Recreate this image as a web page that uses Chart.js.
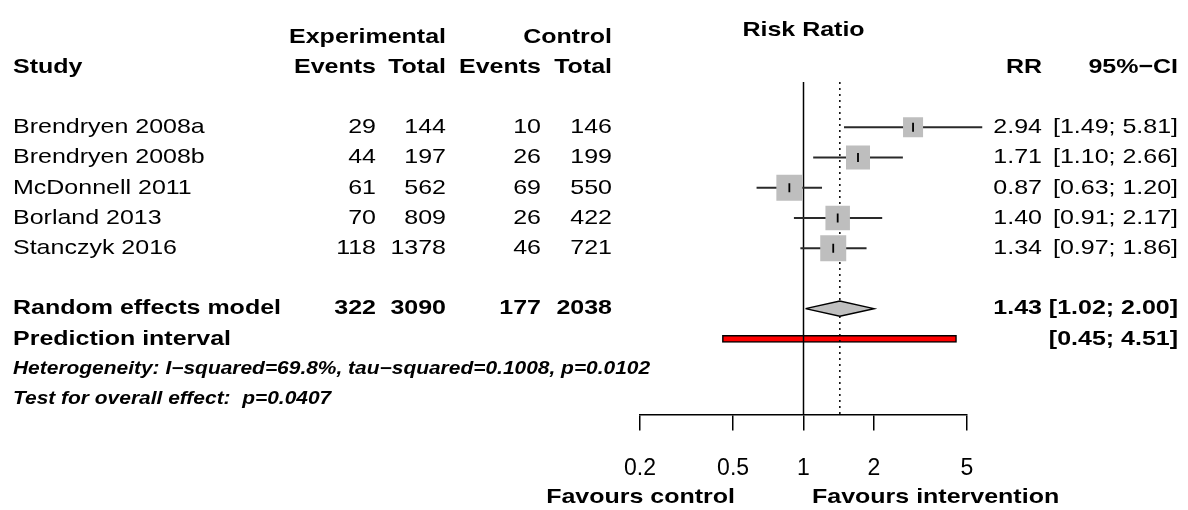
<!DOCTYPE html>
<html>
<head>
<meta charset="utf-8">
<script src="https://cdn.jsdelivr.net/npm/chart.js@4.4.1/dist/chart.umd.min.js"></script>
<style>
  html, body { margin: 0; padding: 0; background: #fff; }
  #wrap { width: 1188px; height: 510px; }
</style>
</head>
<body>
<div id="wrap"><canvas id="forest"></canvas></div>
<script>
// study level data
const studies = ['Brendryen 2008a', 'Brendryen 2008b', 'McDonnell 2011', 'Borland 2013', 'Stanczyk 2016'];
const expEvents = [29, 44, 61, 70, 118];
const expTotal = [144, 197, 562, 809, 1378];
const ctrlEvents = [10, 26, 69, 26, 46];
const ctrlTotal = [146, 199, 550, 422, 721];
const rr = [2.94, 1.71, 0.87, 1.40, 1.34];
const ciLow = [1.49, 1.10, 0.63, 0.91, 0.97];
const ciHigh = [5.81, 2.66, 1.20, 2.17, 1.86];
const weights = [13.7, 19.7, 23.1, 20.5, 23.1]; // estimated from square sizes

// pooled estimate + prediction interval
const pooled = [1.43, 1.02, 2.00];   // RR, lower, upper
const predInterval = [0.45, 4.51];
const xTicks = [0.2, 0.5, 1, 2, 5];

const hetText = 'Heterogeneity: I\u2212squared=69.8%, tau\u2212squared=0.1008, p=0.0102';
const testText = 'Test for overall effect:  p=0.0407';

// row positions (y units, top to bottom)
const rows = [1, 2, 3, 4, 5];
const ROW_POOLED = 7, ROW_PRED = 8, ROW_HET = 9, ROW_TEST = 10;

const FONT = '"Liberation Sans", Arial, Helvetica, sans-serif';
const FS = 21;
const SX = 1.19; // the reference text is drawn a bit wide
const maxW = Math.max(...weights);
const sqRadius = weights.map(w => 26 * Math.sqrt(w / maxW) / (2 * Math.SQRT1_2));

function txt(ctx, s, x, y, align, font) {
    ctx.save();
    ctx.font = font;
    ctx.translate(x, y);
    ctx.scale(SX, 1);
    ctx.textAlign = align;
    ctx.textBaseline = 'middle';
    ctx.fillStyle = '#000';
    ctx.fillText(s, 0, 0);
    ctx.restore();
}

const sum = a => a.reduce((p, c) => p + c, 0);

const tablePlugin = {
    id: 'forestTable',
    afterDraw(chart) {
        const ctx = chart.ctx;
        const y = chart.scales.y;
        const x = chart.scales.x;
        const reg = FS + 'px ' + FONT;
        const bold = 'bold ' + FS + 'px ' + FONT;
        const it = 'italic bold 17.6px ' + FONT;

        // headings
        txt(ctx, 'Risk Ratio', x.getPixelForValue(1), y.getPixelForValue(-2.2), 'center', bold);
        txt(ctx, 'Experimental', 446, y.getPixelForValue(-1.97), 'right', bold);
        txt(ctx, 'Control', 612, y.getPixelForValue(-1.97), 'right', bold);
        const hy = y.getPixelForValue(-1);
        txt(ctx, 'Study', 13, hy, 'left', bold);
        txt(ctx, 'Events', 376, hy, 'right', bold);
        txt(ctx, 'Total', 446, hy, 'right', bold);
        txt(ctx, 'Events', 541, hy, 'right', bold);
        txt(ctx, 'Total', 612, hy, 'right', bold);
        txt(ctx, 'RR', 1042, hy, 'right', bold);
        txt(ctx, '95%\u2212CI', 1178, hy, 'right', bold);

        studies.forEach((s, i) => {
            const py = y.getPixelForValue(rows[i]);
            txt(ctx, s, 13, py, 'left', reg);
            txt(ctx, String(expEvents[i]), 376, py, 'right', reg);
            txt(ctx, String(expTotal[i]), 446, py, 'right', reg);
            txt(ctx, String(ctrlEvents[i]), 541, py, 'right', reg);
            txt(ctx, String(ctrlTotal[i]), 612, py, 'right', reg);
            txt(ctx, rr[i].toFixed(2), 1042, py, 'right', reg);
            txt(ctx, '[' + ciLow[i].toFixed(2) + '; ' + ciHigh[i].toFixed(2) + ']', 1178, py, 'right', reg);
        });

        const ry = y.getPixelForValue(ROW_POOLED);
        txt(ctx, 'Random effects model', 13, ry, 'left', bold);
        txt(ctx, String(sum(expEvents)), 376, ry, 'right', bold);
        txt(ctx, String(sum(expTotal)), 446, ry, 'right', bold);
        txt(ctx, String(sum(ctrlEvents)), 541, ry, 'right', bold);
        txt(ctx, String(sum(ctrlTotal)), 612, ry, 'right', bold);
        txt(ctx, pooled[0].toFixed(2), 1042, ry, 'right', bold);
        txt(ctx, '[' + pooled[1].toFixed(2) + '; ' + pooled[2].toFixed(2) + ']', 1178, ry, 'right', bold);

        const py = y.getPixelForValue(ROW_PRED);
        txt(ctx, 'Prediction interval', 13, py, 'left', bold);
        txt(ctx, '[' + predInterval[0].toFixed(2) + '; ' + predInterval[1].toFixed(2) + ']', 1178, py, 'right', bold);

        txt(ctx, hetText, 13, y.getPixelForValue(ROW_HET), 'left', it);
        txt(ctx, testText, 13, y.getPixelForValue(ROW_TEST), 'left', it);

        // favours labels under the axis
        txt(ctx, 'Favours control', 735, 497, 'right', bold);
        txt(ctx, 'Favours intervention', 812, 497, 'left', bold);
    }
};

const datasets = [];

// squares, drawn above the CI lines
datasets.push({
    type: 'scatter',
    data: rr.map((v, i) => ({ x: v, y: rows[i] })),
    pointStyle: 'rect',
    pointRadius: sqRadius,
    backgroundColor: '#bebebe',
    borderWidth: 0,
    order: 1
});
// estimate tick mark inside each square
datasets.push({
    type: 'scatter',
    data: rr.map((v, i) => ({ x: v, y: rows[i] })),
    pointStyle: 'line',
    rotation: 90,
    pointRadius: 4.5,
    borderColor: '#000',
    borderWidth: 1.8,
    order: 0
});
// confidence intervals
studies.forEach((s, i) => {
    datasets.push({
        type: 'line',
        data: [{ x: ciLow[i], y: rows[i] }, { x: ciHigh[i], y: rows[i] }],
        borderColor: '#2a2a2a',
        borderWidth: 2,
        pointRadius: 0,
        clip: false,
        order: 2
    });
});
// pooled diamond
datasets.push({
    type: 'line',
    data: [
        { x: pooled[1], y: ROW_POOLED },
        { x: pooled[0], y: ROW_POOLED - 0.25 },
        { x: pooled[2], y: ROW_POOLED },
        { x: pooled[0], y: ROW_POOLED + 0.25 },
        { x: pooled[1], y: ROW_POOLED }
    ],
    fill: 'shape',
    backgroundColor: '#c0c0c0',
    borderColor: '#000',
    borderWidth: 1.5,
    pointRadius: 0,
    tension: 0,
    order: 1
});
// prediction interval bar
datasets.push({
    type: 'bar',
    indexAxis: 'y',
    data: [{ x: predInterval, y: ROW_PRED }],
    barThickness: 7,
    backgroundColor: '#ff0000',
    borderColor: '#000',
    borderWidth: 1.5,
    borderSkipped: false,
    order: 4
});
// line of no effect and pooled estimate (dotted)
datasets.push({
    type: 'line',
    data: [{ x: 1, y: -0.5 }, { x: 1, y: 10.5 }],
    borderColor: '#000',
    borderWidth: 1.5,
    pointRadius: 0,
    order: 3
});
datasets.push({
    type: 'line',
    data: [{ x: pooled[0], y: -0.5 }, { x: pooled[0], y: 10.5 }],
    borderColor: '#000',
    borderWidth: 1.5,
    borderDash: [2, 4],
    pointRadius: 0,
    order: 3
});

new Chart(document.getElementById('forest'), {
    type: 'scatter',
    data: { datasets: datasets },
    options: {
        responsive: true,
        maintainAspectRatio: false,
        animation: false,
        events: [],
        layout: { padding: { left: 640, right: 221, top: 82, bottom: 4 } },
        plugins: { legend: { display: false }, tooltip: { enabled: false } },
        scales: {
            x: {
                type: 'logarithmic',
                min: 0.2,
                max: 5,
                afterBuildTicks: axis => { axis.ticks = xTicks.map(v => ({ value: v })); },
                ticks: {
                    color: '#000',
                    font: { family: FONT, size: 23 },
                    padding: 24,
                    maxRotation: 0,
                    autoSkip: false,
                    callback: v => String(v)
                },
                grid: { drawOnChartArea: false, drawTicks: true, tickLength: 16, color: '#000', lineWidth: 1.5 },
                border: { display: true, color: '#000', width: 1.5 }
            },
            y: {
                type: 'linear',
                reverse: true,
                offset: false,
                min: -0.5,
                max: 10.5,
                display: false
            }
        }
    },
    plugins: [tablePlugin]
});
</script>
</body>
</html>
